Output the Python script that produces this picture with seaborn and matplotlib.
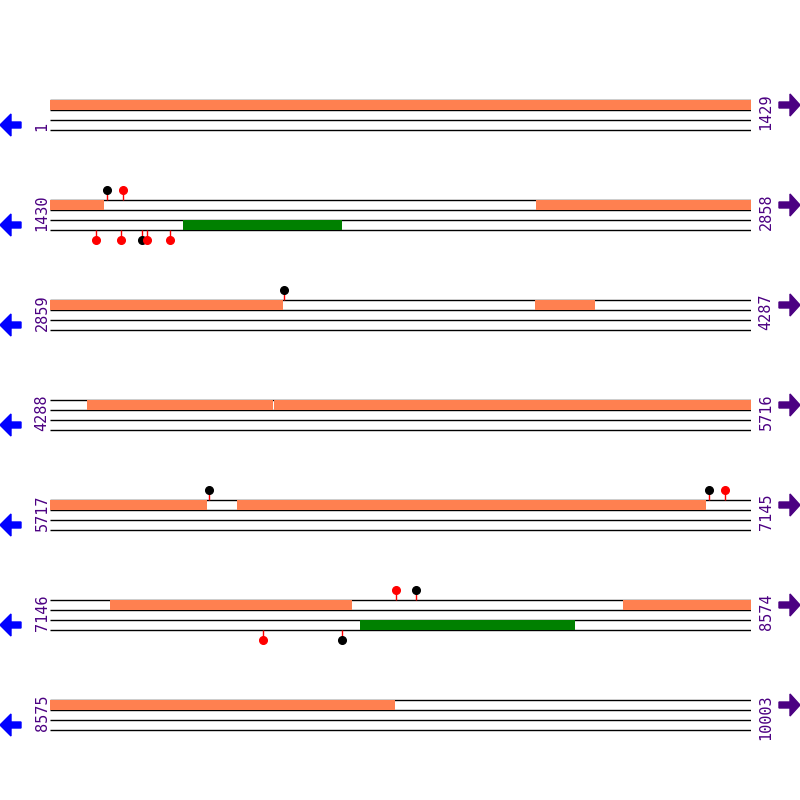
import matplotlib
matplotlib.use("Agg")
import matplotlib.pyplot as plt
import seaborn as sns
from matplotlib.patches import Polygon

sns.set_style("white")

ROW_LEN = 1429
row_starts = [1, 1430, 2859, 4288, 5717, 7146, 8575]
row_ends = [1429, 2858, 4287, 5716, 7145, 8574, 10003]
# (row, start_bp, end_bp) absolute coordinates
top_features = [(0, 1, 1429), (1, 1430, 1540), (1, 2421, 2858), (2, 2859, 3332), (2, 3848, 3969),
                (3, 4363, 4742), (3, 4745, 5716), (4, 5717, 6037), (4, 6098, 7053),
                (5, 7268, 7760), (5, 8315, 8574), (6, 8575, 9277)]
bottom_features = [(1, 1701, 2024), (5, 7778, 8215)]
top_sites = [(1, 1545, "black"), (1, 1578, "red"), (2, 3336, "black"), (4, 6041, "black"),
             (4, 7059, "black"), (4, 7092, "red"), (5, 7851, "red"), (5, 7892, "black")]
bottom_sites = [(1, 1524, "red"), (1, 1575, "red"), (1, 1618, "black"), (1, 1628, "red"),
                (1, 1675, "red"), (5, 7580, "red"), (5, 7741, "black")]

fig = plt.figure(figsize=(8, 8), dpi=100)
ax = fig.add_axes([50 / 800, 0, 701 / 800, 1])
ax.set_xlim(0.5, ROW_LEN + 0.5)
ax.set_ylim(800, 0)
ax.axis("off")
ov = fig.add_axes([0, 0, 1, 1], facecolor="none")
ov.set_xlim(0, 800)
ov.set_ylim(800, 0)
ov.axis("off")

ORANGE = "#ff8050"
GREEN = "#008000"
PURPLE = "#4b0082"
for r, s in enumerate(row_starts):
    y0 = 100 + 100 * r
    for dy in (0, 10, 20, 30):
        ax.hlines(y0 + dy, 0.5, ROW_LEN + 0.5, color="black", lw=1.0, zorder=1)
    ov.text(42, y0 + 31, str(s), rotation=90, ha="center", va="bottom", color=PURPLE,
            fontsize=11, family="DejaVu Sans Mono")
    ov.text(766, y0 - 6, str(row_ends[r]), rotation=90, ha="center", va="top", color=PURPLE,
            fontsize=11, family="DejaVu Sans Mono")
    ov.add_patch(Polygon([(0, y0 + 25), (11, y0 + 14), (11, y0 + 22), (21, y0 + 22), (21, y0 + 28),
                          (11, y0 + 28), (11, y0 + 36)], closed=True, color="blue"))
    ov.add_patch(Polygon([(800, y0 + 5), (790, y0 - 6), (790, y0 + 2), (779, y0 + 2), (779, y0 + 8),
                          (790, y0 + 8), (790, y0 + 16)], closed=True, color=PURPLE))

for r, a, b in top_features:
    y0 = 100 + 100 * r
    s = row_starts[r]
    ax.fill_between([a - s + 0.5, b - s + 1.5], y0, y0 + 10, color=ORANGE, lw=0, zorder=2)
for r, a, b in bottom_features:
    y0 = 100 + 100 * r
    s = row_starts[r]
    ax.fill_between([a - s + 0.5, b - s + 1.5], y0 + 20, y0 + 30, color=GREEN, lw=0, zorder=2)
for r, p, c in top_sites:
    y0 = 100 + 100 * r
    x = p - row_starts[r] + 1
    ax.vlines(x, y0 - 10, y0, color="red", lw=1, zorder=3)
    ax.plot(x, y0 - 10, "o", color=c, ms=5.5, zorder=4)
for r, p, c in bottom_sites:
    y0 = 100 + 100 * r
    x = p - row_starts[r] + 1
    ax.vlines(x, y0 + 30, y0 + 40, color="red", lw=1, zorder=3)
    ax.plot(x, y0 + 40, "o", color=c, ms=5.5, zorder=4)

fig.savefig("out.png", dpi=100)
